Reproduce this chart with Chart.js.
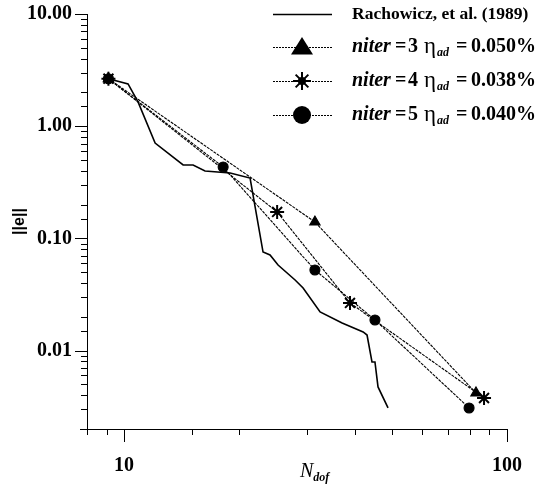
<!DOCTYPE html>
<html>
<head>
<meta charset="utf-8">
<script src="https://cdn.jsdelivr.net/npm/chart.js@4"></script>
<style>
html,body{margin:0;padding:0;background:#fff;}
#wrap{width:541px;height:491px;}
</style>
</head>
<body>
<div id="wrap"><canvas id="c" width="541" height="491"></canvas></div>
<script>
// ---- data ----
const rachN   = [9.1, 10.24, 10.88, 12.05, 14.26, 15.14, 16.27, 18.92, 21.33, 23.06, 24.05, 25.24, 27.96, 29.34, 32.5, 37.1, 42.1, 43.1, 44.4, 45.2, 46.04, 48.9];
const rachErr = [2.65, 2.38, 1.64, 0.708, 0.451, 0.451, 0.399, 0.383, 0.345, 0.0756, 0.0711, 0.0579, 0.0426, 0.0361, 0.0221, 0.0176, 0.01465, 0.01377, 0.00791, 0.00791, 0.00474, 0.00308];
const niter3N   = [9.1, 31.5, 83.0];
const niter3Err = [2.65, 0.140, 0.00419];
const niter4N   = [9.1, 25.1, 38.9, 87.1];
const niter4Err = [2.65, 0.172, 0.0266, 0.00378];
const niter5N   = [9.1, 18.14, 31.5, 45.2, 79.6];
const niter5Err = [2.65, 0.433, 0.0523, 0.01874, 0.00308];
const xTickLabels = [10, 100];
const yTickLabels = [10, 1, 0.1, 0.01];
const legendNames = ["Rachowicz, et al. (1989)", "3", "4", "5"];
const legendEta = ["0.050%", "0.038%", "0.040%"];

const pts = (xs, ys) => xs.map((x, i) => ({x: x, y: ys[i]}));
const isIn = (v, arr) => arr.some(a => Math.abs(Math.log10(v) - Math.log10(a)) < 1e-6);

const SERIF = '"Liberation Serif", "Times New Roman", serif';

const drawMarker = (ctx, style, x, y, r) => {
  ctx.save();
  ctx.fillStyle = '#000'; ctx.strokeStyle = '#000';
  if (style === 'triangle') {
    ctx.beginPath();
    ctx.moveTo(x, y - r);
    ctx.lineTo(x + r * 1.1, y + r * 0.75);
    ctx.lineTo(x - r * 1.1, y + r * 0.75);
    ctx.closePath(); ctx.fill();
  } else if (style === 'circle') {
    ctx.beginPath(); ctx.arc(x, y, r, 0, Math.PI * 2); ctx.fill();
  } else if (style === 'star') {
    ctx.lineWidth = 2;
    ctx.beginPath();
    for (let k = 0; k < 4; k++) {
      const a = k * Math.PI / 4;
      ctx.moveTo(x - r * Math.cos(a), y - r * Math.sin(a));
      ctx.lineTo(x + r * Math.cos(a), y + r * Math.sin(a));
    }
    ctx.stroke();
    ctx.beginPath(); ctx.arc(x, y, r * 0.45, 0, Math.PI * 2); ctx.fill();
  }
  ctx.restore();
};

const decor = {
  id: 'decor',
  afterDraw(chart) {
    const ctx = chart.ctx;
    const xs = chart.scales.x, ys = chart.scales.y;
    ctx.save();
    ctx.strokeStyle = '#000';
    ctx.lineWidth = 1;
    // y ticks
    ys.ticks.forEach(t => {
      const p = Math.round(ys.getPixelForValue(t.value)) + 0.5;
      const major = isIn(t.value, yTickLabels);
      ctx.beginPath(); ctx.moveTo(xs.left - (major ? 12 : 6), p); ctx.lineTo(xs.left, p); ctx.stroke();
    });
    // x ticks
    xs.ticks.forEach(t => {
      const p = Math.round(xs.getPixelForValue(t.value)) + 0.5;
      const major = isIn(t.value, xTickLabels);
      ctx.beginPath(); ctx.moveTo(p, ys.bottom); ctx.lineTo(p, ys.bottom + (major ? 13 : 6)); ctx.stroke();
    });
    // axis extension to the left
    ctx.beginPath(); ctx.moveTo(xs.left - 7, ys.bottom + 0.5); ctx.lineTo(xs.left, ys.bottom + 0.5); ctx.stroke();

    // x axis title N_dof
    ctx.fillStyle = '#000';
    ctx.textBaseline = 'alphabetic';
    ctx.font = 'italic 20px ' + SERIF;
    ctx.fillText('N', 300, 477);
    const wN = ctx.measureText('N').width;
    ctx.font = 'italic bold 12px ' + SERIF;
    ctx.fillText('dof', 300 + wN, 481);

    // legend
    const rows = [14, 47, 81, 115];
    const styles = [null, 'triangle', 'star', 'circle'];
    const sizes = [0, 10, 9, 9];
    rows.forEach((y, i) => {
      ctx.save();
      ctx.lineWidth = i === 0 ? 1.3 : 1;
      if (i > 0) ctx.setLineDash([2, 1]);
      ctx.beginPath(); ctx.moveTo(273, y + 0.5); ctx.lineTo(332, y + 0.5); ctx.stroke();
      ctx.restore();
      if (styles[i]) drawMarker(ctx, styles[i], 302, y, sizes[i]);
      ctx.textBaseline = 'middle';
      if (i === 0) {
        ctx.font = 'bold 17.5px ' + SERIF;
        ctx.fillText(legendNames[0], 352, y);
      } else {
        ctx.font = 'italic bold 20px ' + SERIF;
        ctx.fillText('niter', 352, y);
        const w = ctx.measureText('niter').width;
        ctx.font = 'bold 20px ' + SERIF;
        ctx.fillText('=', 352 + w + 4, y);
        ctx.fillText(legendNames[i], 408, y);
        ctx.font = '23px ' + SERIF;
        ctx.fillText('\u03B7', 424, y);
        ctx.font = 'italic bold 12px ' + SERIF;
        ctx.fillText('ad', 437, y + 6);
        ctx.font = 'bold 20px ' + SERIF;
        ctx.fillText('=', 456, y);
        ctx.fillText(legendEta[i - 1], 471, y);
      }
    });
    ctx.restore();
  }
};

new Chart(document.getElementById('c'), {
  type: 'scatter',
  data: {
    datasets: [
      { label: 'Rachowicz', data: pts(rachN, rachErr), showLine: true, borderColor: '#000', borderWidth: 1.6, pointRadius: 0, fill: false },
      { label: 'niter3', data: pts(niter3N, niter3Err), showLine: true, borderColor: '#000', borderWidth: 1.1, borderDash: [3, 1],
        pointStyle: 'triangle', pointRadius: 6, pointBackgroundColor: '#000', pointBorderColor: '#000', fill: false },
      { label: 'niter5', data: pts(niter5N, niter5Err), showLine: true, borderColor: '#000', borderWidth: 1.1, borderDash: [3, 1],
        pointStyle: 'circle', pointRadius: 5, pointBackgroundColor: '#000', pointBorderColor: '#000', fill: false },
      { label: 'niter4', data: pts(niter4N, niter4Err), showLine: true, borderColor: '#000', borderWidth: 1.1, borderDash: [3, 1],
        pointStyle: 'star', pointRadius: 7, pointBorderWidth: 2, pointBackgroundColor: '#000', pointBorderColor: '#000', fill: false }
    ]
  },
  options: {
    responsive: false,
    animation: false,
    devicePixelRatio: 1,
    layout: { padding: { top: 14, right: 34, left: 0, bottom: 0 } },
    plugins: { legend: { display: false }, tooltip: { enabled: false } },
    scales: {
      x: {
        type: 'logarithmic', min: 8, max: 100,
        grid: { display: false },
        border: { display: true, color: '#000', width: 1 },
        ticks: {
          autoSkip: false, maxRotation: 0, padding: 17, color: '#000',
          font: { family: SERIF, size: 20, weight: 'bold' },
          callback: v => isIn(v, xTickLabels) ? String(Math.round(v)) : ''
        },
        afterFit: s => { s.height = 62; s.paddingLeft = 0; s.paddingRight = 0; }
      },
      y: {
        type: 'logarithmic', min: 0.002, max: 10,
        grid: { display: false },
        border: { display: true, color: '#000', width: 1 },
        title: { display: true, text: '||e||', color: '#000', font: { family: '"Liberation Sans", Arial, sans-serif', size: 16, weight: 'bold' }, padding: { top: 10, bottom: 0 } },
        ticks: {
          autoSkip: false, padding: 7, color: '#000',
          font: { family: SERIF, size: 20, weight: 'bold' },
          callback: v => isIn(v, yTickLabels) ? v.toFixed(2) : ''
        },
        afterFit: s => { s.width = 87; s.paddingTop = 0; s.paddingBottom = 0; }
      }
    }
  },
  plugins: [decor]
});
</script>
</body>
</html>
